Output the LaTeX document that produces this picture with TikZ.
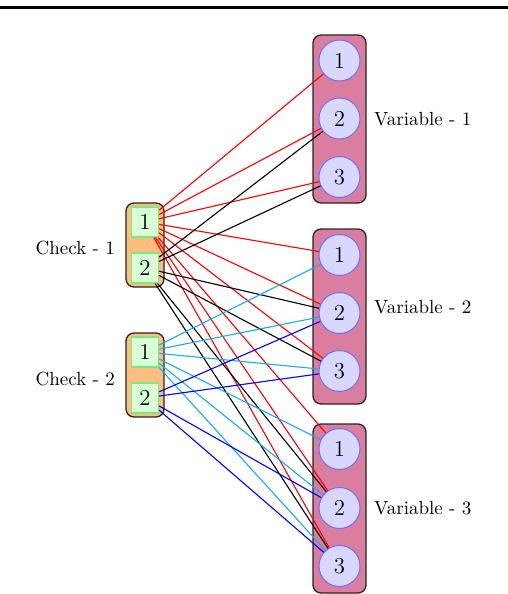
\documentclass[tikz,border=0pt]{standalone}
\definecolor{varbox}{RGB}{219,125,158}
\definecolor{varfill}{RGB}{216,216,255}
\definecolor{varline}{RGB}{110,110,255}
\definecolor{chkbox}{RGB}{253,190,128}
\definecolor{chkfill}{RGB}{217,255,217}
\definecolor{chkline}{RGB}{120,235,120}
\definecolor{lcyan}{RGB}{20,175,235}
\newcommand{\dig}[1]{\scalebox{1.9}{\large #1}}
\newcommand{\lab}[1]{\scalebox{1.9}{\normalsize #1}}
\begin{document}
\begin{tikzpicture}[x=1pt,y=-1pt,
  vbox/.style={draw=black!85,fill=varbox,rounded corners=8pt,line width=1.3pt,inner sep=0pt},
  cbox/.style={draw=black!85,fill=chkbox,rounded corners=8pt,line width=1.3pt,inner sep=0pt},
  vnode/.style={circle,draw=varline,fill=varfill,line width=1pt,minimum size=41pt,inner sep=0pt},
  cnode/.style={rectangle,draw=chkline,fill=chkfill,line width=1.2pt,minimum width=27pt,minimum height=30pt,inner sep=0pt},
  lbl/.style={inner sep=0pt},
  edge/.style={line width=1.1pt}
]
\useasboundingbox (0,0) rectangle (508,594);
\draw[line width=3pt] (0,8) coordinate (rl) -- (508,8) coordinate (rr);

% variable groups
\node[vbox,minimum width=53pt,minimum height=168pt] (V1box) at (339.5,119) {};
\node[vbox,minimum width=53pt,minimum height=175pt] (V2box) at (339.5,316.5) {};
\node[vbox,minimum width=53pt,minimum height=169pt] (V3box) at (339.5,508.5) {};
% check groups
\node[cbox,minimum width=38pt,minimum height=84pt] (C1box) at (145,245) {};
\node[cbox,minimum width=38pt,minimum height=84pt] (C2box) at (145,375) {};

\node[vnode] (v11) at (339.5,60.5) {\dig{1}};
\node[vnode] (v12) at (339.5,118.5) {\dig{2}};
\node[vnode] (v13) at (339.5,177) {\dig{3}};
\node[vnode] (v21) at (339.5,255) {\dig{1}};
\node[vnode] (v22) at (339.5,313) {\dig{2}};
\node[vnode] (v23) at (339.5,371) {\dig{3}};
\node[vnode] (v31) at (339.5,449) {\dig{1}};
\node[vnode] (v32) at (339.5,508) {\dig{2}};
\node[vnode] (v33) at (339.5,566) {\dig{3}};

\node[cnode] (c11) at (145,222) {\dig{1}};
\node[cnode] (c12) at (145,268) {\dig{2}};
\node[cnode] (c21) at (145,352) {\dig{1}};
\node[cnode] (c22) at (145,398) {\dig{2}};

\node[lbl,anchor=west] (lv1) at (374,119) {\lab{Variable - 1}};
\node[lbl,anchor=west] (lv2) at (374,307) {\lab{Variable - 2}};
\node[lbl,anchor=west] (lv3) at (374,508) {\lab{Variable - 3}};
\node[lbl,anchor=east] (lc1) at (115,248) {\lab{Check - 1}};
\node[lbl,anchor=east] (lc2) at (115,379) {\lab{Check - 2}};

\foreach \t in {v11,v12,v13,v21,v22,v23,v31,v32,v33}
  \draw[edge,red] (c11) -- (\t);
\foreach \t in {v12,v13,v22,v23,v32,v33}
  \draw[edge,black] (c12) -- (\t);
\foreach \t in {v21,v22,v23,v31,v32,v33}
  \draw[edge,lcyan] (c21) -- (\t);
\foreach \t in {v22,v23,v32,v33}
  \draw[edge,blue] (c22) -- (\t);
\end{tikzpicture}
\end{document}
